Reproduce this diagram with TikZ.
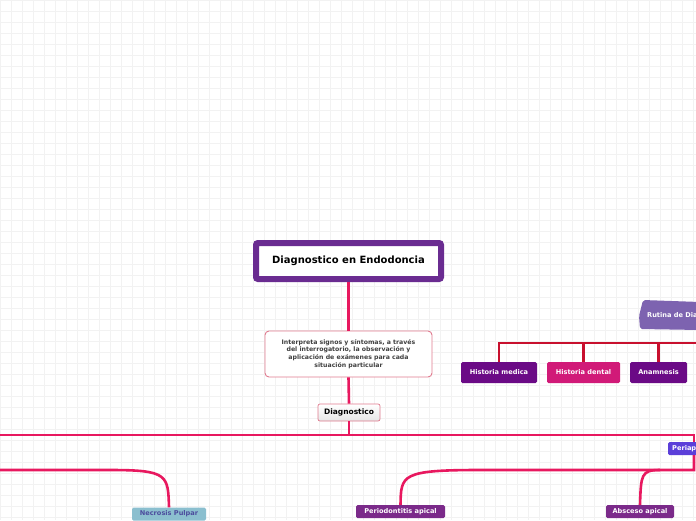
\documentclass[tikz,border=0pt]{standalone}
\usepackage{fontspec}
\setmainfont{DejaVu Sans}
\definecolor{titlepurple}{HTML}{6A2C91}
\definecolor{linkpink}{HTML}{E8185F}
\definecolor{linkred}{HTML}{C8102E}
\definecolor{descborder}{HTML}{E07A8E}
\definecolor{darkviolet}{HTML}{6B0A86}
\definecolor{magentapink}{HTML}{D11A78}
\definecolor{periapblue}{HTML}{5B3FD9}
\definecolor{rutinaviolet}{HTML}{7D63B0}
\definecolor{necrosisblue}{HTML}{8BBFCF}
\definecolor{apicalviolet}{HTML}{7B2A8A}
\tikzset{
  link/.style={linkpink, line width=2.6pt},
  linkdark/.style={linkred, line width=2.6pt},
  subbox/.style={rounded corners=1.5pt, text=white, font=\bfseries\fontsize{6.6}{8}\selectfont, inner sep=0pt},
}
\begin{document}
\begin{tikzpicture}[x=1pt,y=-1pt]
    \useasboundingbox (0,0) rectangle (696,520);
    \fill[white] (0,0) rectangle (696,520);
    \foreach \g in {0,11,...,700} {
      \draw[black!5, line width=0.5pt] (\g,0) -- (\g,520);
      \draw[black!5, line width=0.5pt] (0,\g) -- (696,\g);
    }

    % central title and description
    \node[draw=titlepurple, line width=6pt, fill=white, rounded corners=2pt, minimum width=185pt, minimum height=36pt, font=\bfseries\fontsize{10}{12}\selectfont] (title) at (348.5,261) {Diagnostico en Endodoncia};
    \node[draw=descborder, line width=0.9pt, fill=white, rounded corners=4pt, minimum width=167pt, minimum height=46pt, align=center, text=black!75, font=\bfseries\fontsize{6.2}{7.8}\selectfont] (desc) at (348.5,354) {Interpreta signos y síntomas, a través\\del interrogatorio, la observación y\\aplicación de exámenes para cada\\situación particular};
    \node[draw=descborder, line width=0.7pt, top color=white, bottom color=black!10, rounded corners=2pt, minimum width=62pt, minimum height=17pt, inner sep=0pt, font=\bfseries\fontsize{7.5}{9}\selectfont] (diag) at (349,412.5) {Diagnostico};

    \draw[link] (title.south) -- (desc.north);
    \draw[link] (desc.south) -- (diag.north);

    % right hand branch
    \fill[rutinaviolet, rounded corners=2pt] (643,300) -- (700,302) -- (700,330) -- (640,329) -- (639,316) -- cycle;
    \node[subbox, anchor=west] (rutina) at (647,315.5) {Rutina de Diagnostico};
    \node[fill=darkviolet, subbox, minimum width=76pt, minimum height=21pt] (hmed) at (499,372.5) {Historia medica};
    \node[fill=magentapink, subbox, minimum width=73pt, minimum height=21pt] (hden) at (583.5,372.5) {Historia dental};
    \node[fill=darkviolet, subbox, minimum width=57pt, minimum height=21pt] (anam) at (658.5,372.5) {Anamnesis};
    \coordinate (rjoin) at (696,343);
    \draw[linkdark] (rjoin) -- (499,343) -- (hmed.north);
    \draw[linkdark] (hden.north |- rjoin) -- (hden.north);
    \draw[linkdark] (anam.north |- rjoin) -- (anam.north);

    % lower branch
    \fill[periapblue, rounded corners=1.5pt] (668,442) rectangle (700,455);
    \node[subbox, anchor=west] (periap) at (672,448.5) {Periapicales};
    \coordinate (lend) at (0,435);
    \draw[link] (diag.south) -- (349,435);
    \draw[link] (lend) -- (694,435) -- (694,442);
    \node[fill=necrosisblue, subbox, text=black!55!blue!70, minimum width=74pt, minimum height=13pt] (necro) at (169,514) {Necrosis Pulpar};
    \node[fill=apicalviolet, subbox, minimum width=89pt, minimum height=13pt] (perio) at (400.5,511.5) {Periodontitis apical};
    \node[fill=apicalviolet, subbox, minimum width=68pt, minimum height=13pt] (absc) at (640,511.5) {Absceso apical};
    \coordinate (nend) at (0,470);
    \draw[link] (nend) -- (110,470) .. controls (168,470) and (168,475) .. (necro.north);
    \draw[link] (694,455) -- (694,470) -- (480,470) .. controls (401,470) and (401,475) .. (perio.north);
    \draw[link] (660,470) .. controls (641,470) and (641,475) .. (absc.north);
\end{tikzpicture}
\end{document}
